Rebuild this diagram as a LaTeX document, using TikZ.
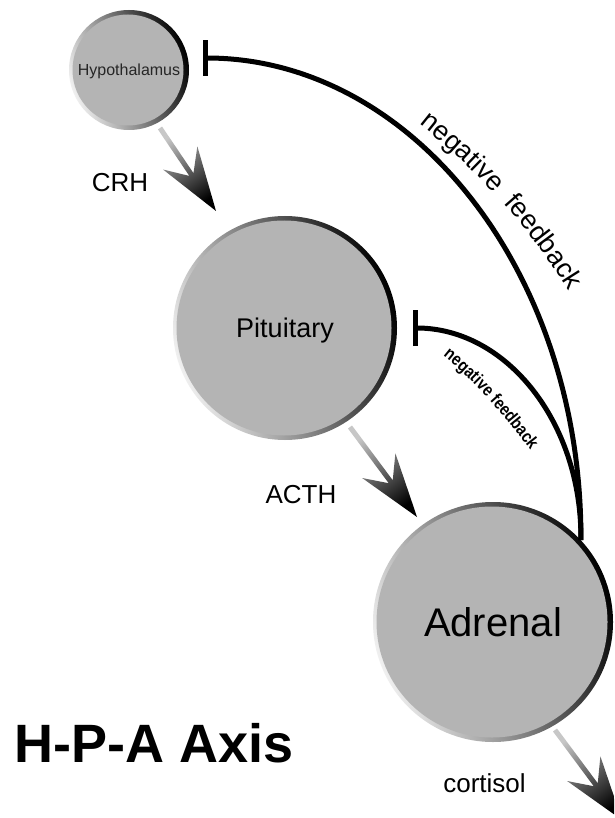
\documentclass[tikz,border=0pt]{standalone}
\usepackage{fontspec}
\setmainfont{Liberation Sans}
\newfontfamily\narrowsans[FakeStretch=0.85]{Liberation Sans}
\usetikzlibrary{calc,arrows.meta,decorations.text}
\definecolor{organfill}{HTML}{B4B4B4}
\newcommand{\hpaarrow}[3]{%
  \coordinate (ArN) at ($(#2)!44pt!(#1)$);
  \coordinate (ArM) at ($(#2)!64pt!(#1)$);
  \shade[top color=black!22, middle color=black!58, bottom color=black, shading angle=#3]
    ($(#1)!2.5pt!90:(#2)$) -- ($(ArN)!2.5pt!90:(#2)$) -- ($(ArM)!20.7pt!90:(#2)$)
    -- (#2) -- ($(ArM)!20.7pt!-90:(#2)$) -- ($(ArN)!2.5pt!-90:(#2)$)
    -- ($(#1)!2.5pt!-90:(#2)$) -- cycle;}
\begin{document}
\begin{tikzpicture}[x=1pt,y=-1pt,
  organ/.style={circle, inner sep=0pt, minimum size=#1*2pt,
    top color=black!6, bottom color=black, shading angle=110,
    path picture={\fill[organfill] ([xshift=-1pt]path picture bounding box.center) circle[radius=#1pt-4.5pt];}},
  lab/.style={inner sep=0pt, anchor=base, font=\fontsize{26}{26}\selectfont},
  fb/.style={line width=5pt, -{Bar[width=36pt]}}]
\fill[white] (0,0) rectangle (614,818);
\clip (0,0) rectangle (614,818);
\useasboundingbox (0,0) rectangle (614,818);

% organs
\node[organ=60, font=\fontsize{16}{16}\selectfont, text height=11pt, text depth=0pt, text=black!85] (hyp) at (129,70) {Hypothalamus};
\node[organ=112, font=\fontsize{27}{27}\selectfont, text height=19.3pt, text depth=0pt] (pit) at (285,328) {Pituitary};
\node[organ=120, font=\fontsize{40}{40}\selectfont, text height=28.6pt, text depth=0pt] (adr) at (493,622) {Adrenal};

% hormone arrows
\coordinate (crhS) at (160,128); \coordinate (crhT) at (216,211);
\coordinate (acthS) at (350,427); \coordinate (acthT) at (417,517);
\coordinate (cortS) at (555,730); \coordinate (cortT) at (622,820);
\hpaarrow{crhS}{crhT}{34}
\hpaarrow{acthS}{acthT}{36.7}
\hpaarrow{cortS}{cortT}{36.7}

% labels
\node[lab] (crh) at (120,192) {CRH};
\node[lab] (acth) at (301,503) {ACTH};
\node[lab] (cort) at (484.5,792) {cortisol};
\node[lab, font=\fontsize{54}{54}\selectfont\bfseries] (title) at (154,762) {H-P-A Axis};

% feedback connectors
\coordinate (hbar) at (203,58);
\coordinate (pbar) at (413,328);
\draw[fb] (adr.43) .. controls (582,272) and (412,58) .. (hbar);
\draw[fb] (adr.43) .. controls (582,422) and (506,328) .. (pbar);

% feedback labels
\path[decorate, decoration={text along path, text align=left,
  text={|\fontsize{27}{27}\selectfont|negative}}]
  (419,124) .. controls (479,171) and (530,228) .. (569,291);
\path[decorate, decoration={text along path, text align=right,
  text={|\fontsize{27}{27}\selectfont|feedback}}]
  (419,124) .. controls (479,171) and (530,228) .. (569,291);
\path[decorate, decoration={text along path, text align=left,
  text={|\narrowsans\bfseries\fontsize{17.5}{17.5}\selectfont|negative feedback}}]
  (443,356) .. controls (477,382.5) and (504.5,417) .. (531,451) -- (545,470);
\end{tikzpicture}
\end{document}
